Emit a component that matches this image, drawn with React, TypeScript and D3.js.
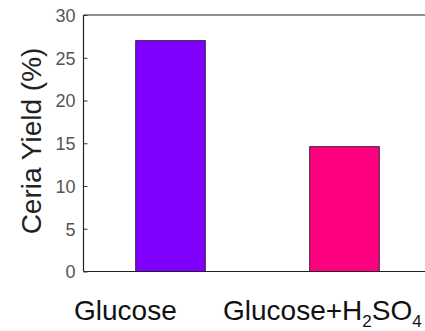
import React, {useEffect, useRef} from "react";
import * as d3 from "d3";

// chart data
const categories = ["Glucose", "Glucose+H2SO4"]
const yieldValues = [27.0, 14.6]
const barColors = ["#8000ff", "#ff0080"]
const yTicks = [0, 5, 10, 15, 20, 25, 30]

const W = 425
const H = 331
const left = 83.5
const top = 15
const bottom = 271.5

const App = () => {
    const svgRef = useRef(null)

    const xScale = d3.scaleBand()
        .domain(categories)
        .range([left, left + 348])
        .paddingInner(0.6)
        .paddingOuter(0.3)

    const yScale = d3.scaleLinear()
        .domain([0, 30])
        .range([bottom, top])

    useEffect(() => {
        const svg = d3.select(svgRef.current)
        // y axis with small inward ticks
        const yAxis = d3.axisRight(yScale).tickValues(yTicks).tickSize(4).tickPadding(-14)
        const g = svg.select(".yAxis")
        // @ts-ignore
        g.attr("transform", `translate(${left},0)`).call(yAxis)
        g.select(".domain").remove()
        g.selectAll(".tick line").attr("stroke", "#333")
        g.selectAll(".tick text")
            .attr("text-anchor", "end")
            .attr("x", -8)
            .attr("dy", "0.35em")
            .attr("fill", "#555")
            .style("font-family", "Liberation Sans, Arial, sans-serif")
            .style("font-size", "18px")
    }, [])

    // where each x label starts (labels sit left of their bars in the original)
    const labelStart = [74, 223]

    return (
        <svg ref={svgRef} width={W} height={H}
             style={{position: "absolute", left: 0, top: 0, background: "#fff"}}
             fontFamily={"Liberation Sans, Arial, sans-serif"}>
            <rect x={0} y={0} width={W} height={H} fill={"#fff"}/>

            {categories.map((c, i) => (
                <rect key={c}
                      x={xScale(c)}
                      y={yScale(yieldValues[i])}
                      width={xScale.bandwidth()}
                      height={yScale(0) - yScale(yieldValues[i])}
                      fill={barColors[i]}
                      stroke={"#3a2040"}
                      strokeWidth={1}/>
            ))}

            {/* frame: left, top, bottom */}
            <line x1={left} x2={left} y1={top} y2={bottom} stroke={"#222"} strokeWidth={1.2}/>
            <line x1={left} x2={W} y1={top} y2={top} stroke={"#222"} strokeWidth={1.2}/>
            <line x1={left} x2={W} y1={bottom} y2={bottom} stroke={"#222"} strokeWidth={1.2}/>

            <g className={"yAxis"}/>

            <text transform={"translate(41,141) rotate(-90)"} textAnchor={"middle"}
                  fontSize={28} fill={"#222"}>Ceria Yield (%)</text>

            <text x={labelStart[0]} y={320} fontSize={28} fill={"#111"}>{categories[0]}</text>
            <text x={labelStart[1]} y={320} fontSize={28} fill={"#111"}>
                Glucose+H<tspan fontSize={17} dy={7}>2</tspan><tspan dy={-7}>SO</tspan><tspan fontSize={17} dy={7}>4</tspan>
            </text>
        </svg>
    );
};

export default App;
